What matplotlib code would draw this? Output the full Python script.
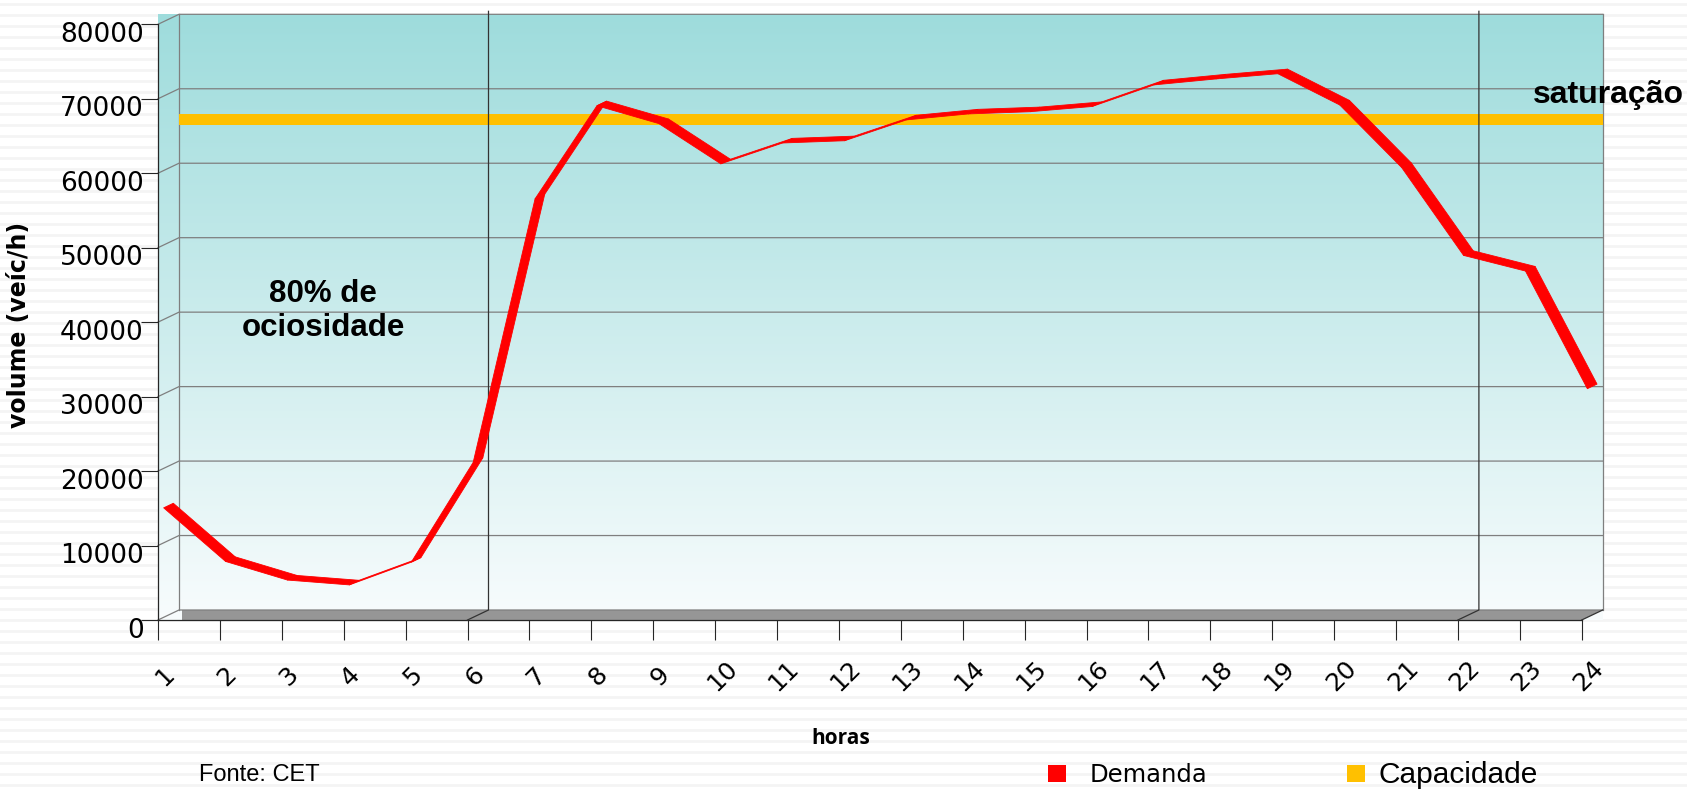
import numpy as np
import matplotlib.pyplot as plt
from matplotlib.patches import Polygon, Rectangle
from matplotlib.collections import PolyCollection
from matplotlib.transforms import ScaledTranslation
from matplotlib.colors import to_rgb

# data
horas = list(range(1, 25))
demanda = [14700, 7500, 5000, 4350, 7400, 20800, 56200, 68700, 66300, 60900,
           63700, 64000, 66800, 67600, 67900, 68600, 71500, 72300, 73000, 68800,
           60400, 48600, 46500, 30700]
capacidade = 66500
yticks = list(range(0, 80001, 10000))
divisores = [6, 22]

W, H = 1687, 792
fig = plt.figure(figsize=(W / 100, H / 100), dpi=100)
fig.patch.set_facecolor('white')

# lined background
bg = fig.add_axes([0, 0, 1, 1], zorder=-5)
bg.set_xlim(0, W)
bg.set_ylim(H, 0)
bg.axis('off')
for y in np.arange(4, H, 11):
    bg.axhline(y, color='#f4f4f4', lw=2, zorder=0)

# front plane of the 3d chart
x0, x1 = 158, 1581.7
y0, y1 = 620, 24.3
ax = fig.add_axes([x0 / W, (H - y0) / H, (x1 - x0) / W, (y0 - y1) / H])
ax.patch.set_visible(False)

px_h = (x1 - x0) / 23
px_v = (y0 - y1) / 80000
ddx = 21 / px_h      # depth offset in data units
ddy = 10 / px_v

# wall gradient
c_top = np.array(to_rgb('#9edcdc'))
c_bot = np.array(to_rgb('#f8fcfd'))
t = np.linspace(0, 1, 256)[:, None, None]
grad = c_top * (1 - t) + c_bot * t
ax.imshow(grad, extent=[1, 24 + ddx, 0, 80000 + ddy], aspect='auto',
          zorder=0, clip_on=False, interpolation='bilinear')

# floor
ax.add_patch(Polygon([(1 + ddx + 3 / px_h, ddy), (24 + ddx, ddy), (24, 0),
                      (1 + ddx + 3 / px_h, 0)], closed=True, fc='#969696',
                     ec='none', zorder=0.5, clip_on=False))

# gridlines on back and side wall
gl = dict(color='#7f7f7f', lw=0.9, zorder=1, clip_on=False)
for v in yticks:
    ax.plot([1, 1 + ddx, 24 + ddx], [v, v + ddy, v + ddy], **gl)
ax.plot([1 + ddx] * 2, [ddy, 80000 + ddy], **gl)
ax.plot([24 + ddx] * 2, [ddy, 80000 + ddy], **gl)
ax.plot([24, 24 + ddx], [0, ddy], color='#333333', lw=0.9, zorder=1, clip_on=False)

# capacity band
ax.add_patch(Rectangle((1 + ddx, capacidade + 0.5 * ddy - 5.4 / px_v), 23,
                       10.8 / px_v, fc='#ffc000', ec='none', zorder=2,
                       clip_on=False))

# period dividers
for d in divisores:
    ax.plot([d, d + ddx, d + ddx], [0, ddy, 80000 + ddy + 3 / px_v],
            color='#333333', lw=0.9, zorder=3, clip_on=False)

# demand ribbon
hx = np.array(horas, float)
dv = np.array(demanda, float)
f0, f1 = 0.27, 0.73
quads = []
for i in range(len(hx) - 1):
    quads.append([(hx[i] + f0 * ddx, dv[i] + f0 * ddy),
                  (hx[i + 1] + f0 * ddx, dv[i + 1] + f0 * ddy),
                  (hx[i + 1] + f1 * ddx, dv[i + 1] + f1 * ddy),
                  (hx[i] + f1 * ddx, dv[i] + f1 * ddy)])
ax.add_collection(PolyCollection(quads, facecolors='#ff0000',
                                 edgecolors='#ff0000', linewidths=0.6,
                                 zorder=4, clip_on=False))

ax.set_xlim(1, 24)
ax.set_ylim(0, 80000)
for s in ['top', 'right']:
    ax.spines[s].set_visible(False)
for s in ['left', 'bottom']:
    ax.spines[s].set_color('#262626')
    ax.spines[s].set_linewidth(0.9)

ax.set_xticks(horas)
ax.set_xticklabels([str(h) for h in horas])
ax.set_yticks(yticks)
ax.set_yticklabels([str(v) for v in yticks])
ax.tick_params(axis='x', direction='out', length=14.4, width=0.8,
               color='#262626', pad=26, labelsize=18)
ax.tick_params(axis='y', direction='out', length=12.2, width=0.8,
               color='#262626', pad=-2, labelsize=19)
for lab in ax.get_xticklabels():
    lab.set_rotation(45)
    lab.set_ha('center')
    lab.set_va('center')
    lab.set_transform(lab.get_transform() + ScaledTranslation(0.07, 0, fig.dpi_scale_trans))
for lab in ax.get_yticklabels():
    lab.set_transform(lab.get_transform() + ScaledTranslation(0, -0.075, fig.dpi_scale_trans))

# texts
fig.text(19.4 / W, 1 - 325 / H, 'volume (veíc/h)', rotation=90, fontsize=17,
         fontweight='bold', ha='center', va='center')
fig.text(323 / W, 1 - 311 / H, '80% de\nociosidade', ha='center', va='center',
         fontsize=22.5, family='Liberation Sans', fontweight='bold',
         linespacing=1.15)
fig.text(1684 / W, 1 - 95 / H, 'saturação', ha='right', va='center',
         fontsize=23, family='Liberation Sans', fontweight='bold')
fig.text(841 / W, 1 - 738 / H, 'horas', ha='center', va='center',
         fontsize=15, family='Open Sans', fontweight='bold')
fig.text(199 / W, 1 - 775 / H, 'Fonte: CET', ha='left', va='center',
         fontsize=17, family='Liberation Sans')

# legend
bg.add_patch(Rectangle((1048, 765), 18, 17, fc='#ff0000', ec='none', zorder=5))
bg.add_patch(Rectangle((1347, 765), 18, 17, fc='#ffc000', ec='none', zorder=5))
bg.text(1090, 775, 'Demanda', ha='left', va='center', fontsize=17.5, zorder=5)
bg.text(1379, 775, 'Capacidade', ha='left', va='center', fontsize=21.5,
        family='Liberation Sans', zorder=5)

fig.savefig('out.png', dpi=100)
